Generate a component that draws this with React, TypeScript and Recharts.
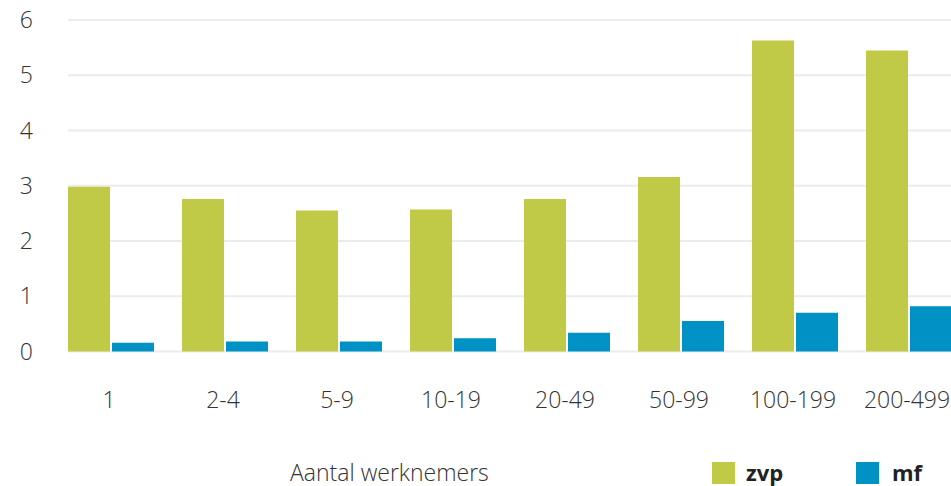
import React from "react";
import { BarChart, Bar, XAxis, YAxis, CartesianGrid } from "recharts";

const categories = ["1", "2-4", "5-9", "10-19", "20-49", "50-99", "100-199", "200-499"];
const zvp = [2.98, 2.76, 2.55, 2.57, 2.76, 3.16, 5.63, 5.45];
const mf = [0.16, 0.18, 0.18, 0.24, 0.34, 0.55, 0.7, 0.82];
const yTicks = [0, 1, 2, 3, 4, 5, 6];
const axisTitle = "Aantal werknemers";
const seriesNames = { zvp: "zvp", mf: "mf" };

const GREEN = "#c1ca46";
const BLUE = "#0091c5";
const FONT = "'Open Sans', 'Noto Sans', sans-serif";

const data = categories.map((c, i) => ({ cat: c, zvp: zvp[i], mf: mf[i] }));

const GridLine = (p: any) => (
  <line
    key={`gl-${p.index}`}
    x1={p.x1 + 14}
    x2={p.x2}
    y1={p.y1}
    y2={p.y2}
    stroke="#ebebeb"
    strokeWidth={2}
  />
);

const Overlay = () => (
  <svg
    width={951}
    height={486}
    style={{ position: "absolute", left: 0, top: 0, pointerEvents: "none" }}
  >
    <text x={290} y={481} fontFamily={FONT} fontSize={23} fontWeight={300} fill="#333">
      {axisTitle}
    </text>
    <rect x={712} y={462} width={23} height={22} fill={GREEN} />
    <text x={746} y={481} fontFamily={FONT} fontSize={22} fontWeight={700} fill="#222">
      {seriesNames.zvp}
    </text>
    <rect x={856} y={462} width={23} height={22} fill={BLUE} />
    <text x={892} y={481} fontFamily={FONT} fontSize={22} fontWeight={700} fill="#222">
      {seriesNames.mf}
    </text>
  </svg>
);

export default function App() {
  return (
    <div
      style={{
        position: "absolute",
        left: 0,
        top: 0,
        width: 951,
        height: 486,
        overflow: "hidden",
        background: "#fff",
      }}
    >
      <BarChart
        width={980}
        height={486}
        data={data}
        margin={{ top: 20, right: 14, bottom: 104.5, left: 0 }}
        barSize={42}
        barGap={2}
      >
        <CartesianGrid vertical={false} horizontal={GridLine} />
        <XAxis
          dataKey="cat"
          axisLine={false}
          tickLine={false}
          tickSize={0}
          tickMargin={40}
          height={30}
          interval={0}
          tick={{ fontFamily: FONT, fontSize: 23, fontWeight: 300, fill: "#333", dx: -2 }}
        />
        <YAxis
          domain={[0, 6]}
          ticks={yTicks}
          width={54}
          axisLine={false}
          tickLine={false}
          tickSize={0}
          tickMargin={21}
          tick={{ fontFamily: FONT, fontSize: 23, fontWeight: 300, fill: "#333", textAnchor: "end" }}
        />
        <Bar dataKey="zvp" fill={GREEN} isAnimationActive={false} />
        <Bar dataKey="mf" fill={BLUE} isAnimationActive={false} />
      </BarChart>
      <Overlay />
    </div>
  );
}
